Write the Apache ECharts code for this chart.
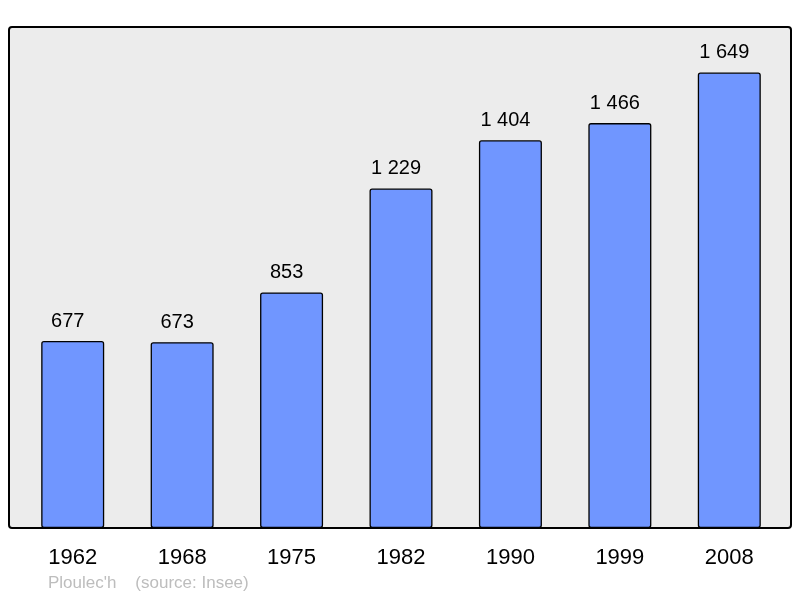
<!DOCTYPE html>
<html><head><meta charset="utf-8">
<script src="https://cdn.jsdelivr.net/npm/echarts@6/dist/echarts.min.js"></script>
<style>html,body{margin:0;padding:0;background:#fff}#c{width:800px;height:598px}</style>
</head><body><div id="c"></div>
<script>
const years = ['1962','1968','1975','1982','1990','1999','2008'];
const population = [677, 673, 853, 1229, 1404, 1466, 1649];
const sourceText = "Ploulec'h    (source: Insee)";

function fmt(v){ return String(v).replace(/\B(?=(\d{3})+(?!\d))/g, ' '); }

const chart = echarts.init(document.getElementById('c'), null, {renderer:'canvas'});
chart.setOption({
  animation: false,
  backgroundColor: '#ffffff',
  graphic: [
    {type:'rect', z:-10, shape:{x:9, y:27, width:782, height:501, r:3},
     style:{fill:'#ececec', stroke:'#000', lineWidth:2}},
    {type:'text', left:48, top:575, style:{text:sourceText, fill:'#bdbdbd', font:'17px "Liberation Sans", Arial, sans-serif'}}
  ],
  grid: {left:18, right:16, top:27, bottom:70},
  xAxis: {
    type:'category', data: years,
    axisLine:{show:false}, axisTick:{show:false},
    axisLabel:{color:'#000', fontSize:22, fontFamily:'"Liberation Sans", Arial, sans-serif', margin:19}
  },
  yAxis: {type:'value', min:0, max:1814, show:false, splitLine:{show:false}},
  series: [{
    type:'bar', data: population, barWidth:63, z:2,
    itemStyle:{color:'#7096ff', borderColor:'#000', borderWidth:1.3, borderRadius:2},
    label:{show:true, position:'top', distance:10, offset:[-5,0], color:'#000', fontSize:20,
      fontFamily:'"Liberation Sans", Arial, sans-serif', formatter: p => fmt(p.value)}
  }]
});
</script></body></html>
